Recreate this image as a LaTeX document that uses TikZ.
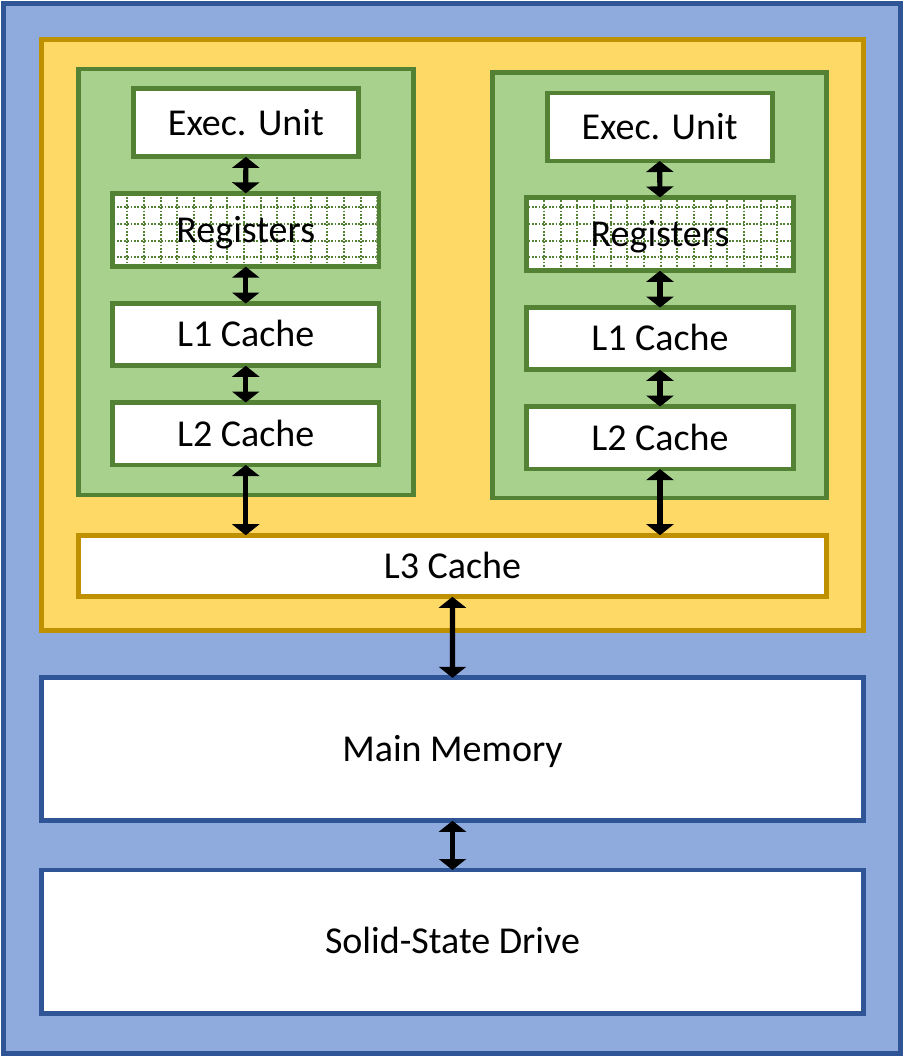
\documentclass[tikz,border=0pt]{standalone}
\usepackage{fontspec}
\setmainfont{Carlito}
\usetikzlibrary{arrows.meta}
\definecolor{bluefill}{HTML}{8FAADC}
\definecolor{blueline}{HTML}{2F5597}
\definecolor{yelfill}{HTML}{FFD966}
\definecolor{yelline}{HTML}{BF9000}
\definecolor{grnfill}{HTML}{A9D18E}
\definecolor{grnline}{HTML}{548235}
\tikzset{
  box/.style={rectangle, line width=4.8pt, outer sep=0pt, inner sep=0pt,
    font=\fontsize{38}{40}\selectfont, text height=24.5pt, text depth=0pt},
  bluebox/.style={box, draw=blueline, fill=bluefill},
  yelbox/.style={box, draw=yelline, fill=yelfill},
  grnbox/.style={box, draw=grnline, fill=grnfill},
  unitbox/.style={box, draw=grnline, fill=white},
  l3box/.style={box, draw=yelline, fill=white},
  membox/.style={box, draw=blueline, fill=white},
  biarrow/.style={line width=5.2pt, black,
    {Triangle[width=27pt,length=11pt]}-{Triangle[width=27pt,length=11pt]}},
  griddot/.style={grnline, line width=1.8pt, dash pattern=on 1.8pt off 1.6pt},
}
\begin{document}
\begin{tikzpicture}[x=1pt,y=-1pt]
\useasboundingbox (0,0) rectangle (902,1056);
\node[bluebox, minimum width=896.8pt, minimum height=1050.3pt] (outer) at (451.9,528.65) {};
\node[yelbox, minimum width=822pt, minimum height=591pt] (cpu) at (452.5,334.7) {};
\node[grnbox, minimum width=335pt, minimum height=426pt] (coreL) at (245.8,282) {};
\node[grnbox, minimum width=334pt, minimum height=425.5pt] (coreR) at (659.5,285.25) {};
% left core
\node[unitbox, minimum width=225pt, minimum height=68pt] (execL) at (245.9,122.9) {Exec. Unit};
\node[unitbox, minimum width=266.5pt, minimum height=73.4pt] (regL) at (245.75,230) {};
\node[unitbox, minimum width=266.5pt, minimum height=62.3pt] (l1L) at (245.75,334.65) {L1 Cache};
\node[unitbox, minimum width=266.5pt, minimum height=62.5pt] (l2L) at (245.75,433.75) {L2 Cache};
% right core
\node[unitbox, minimum width=225pt, minimum height=68pt] (execR) at (659.6,127) {Exec. Unit};
\node[unitbox, minimum width=266.5pt, minimum height=73.4pt] (regR) at (660,234.1) {};
\node[unitbox, minimum width=266.5pt, minimum height=62.3pt] (l1R) at (660,338.7) {L1 Cache};
\node[unitbox, minimum width=266.5pt, minimum height=62.5pt] (l2R) at (660,437.8) {L2 Cache};
% register grids
\foreach \r in {regL,regR}{
  \begin{scope}
    \clip ([shift={(2.4pt,2.4pt)}]\r.south west) rectangle ([shift={(-2.4pt,-2.4pt)}]\r.north east);
    \foreach \k in {-1,...,41} \draw[griddot] (127.3+16.667*\k,180) -- (127.3+16.667*\k,290);
    \foreach \k in {-2,...,4} \draw[griddot] (100,207.3+16.667*\k) -- (810,207.3+16.667*\k);
  \end{scope}
}
\node[box] (regLt) at (regL.center) {Registers};
\node[box] (regRt) at (regR.center) {Registers};
% L3 and memory
\node[l3box, minimum width=748.2pt, minimum height=61.6pt] (l3) at (452.4,566) {L3 Cache};
\node[membox, minimum width=822pt, minimum height=143pt] (mem) at (452.5,749.3) {Main Memory};
\node[membox, minimum width=822pt, minimum height=143.2pt] (ssd) at (452.5,941.6) {Solid-State Drive};
% arrows
\draw[biarrow] (execL.south) -- (regL.north);
\draw[biarrow] (regL.south) -- (l1L.north);
\draw[biarrow] (l1L.south) -- (l2L.north);
\draw[biarrow] (l2L.south) -- (l2L.south |- l3.north);
\draw[biarrow] (execR.south) -- (regR.north);
\draw[biarrow] (regR.south) -- (l1R.north);
\draw[biarrow] (l1R.south) -- (l2R.north);
\draw[biarrow] (l2R.south) -- (l2R.south |- l3.north);
\draw[biarrow] (l3.south) -- (mem.north);
\draw[biarrow] (mem.south) -- (ssd.north);
\end{tikzpicture}
\end{document}
